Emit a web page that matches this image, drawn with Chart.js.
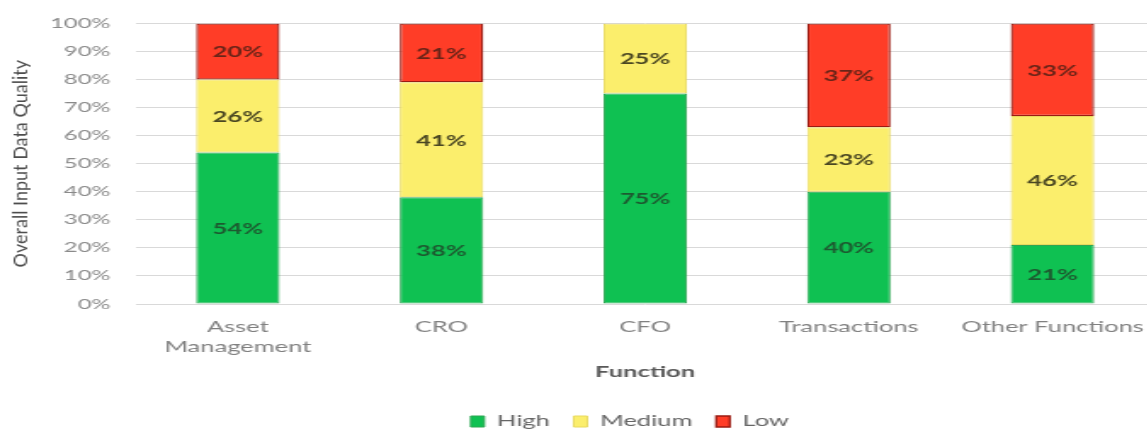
<!DOCTYPE html>
<html>
<head>
<meta charset="utf-8">
<script src="https://cdn.jsdelivr.net/npm/chart.js@4/dist/chart.umd.min.js"></script>
<style>
  html, body { margin: 0; padding: 0; background: #fff; overflow: hidden; }
  #wrap { width: 680px; height: 430px; transform-origin: 0 0; }
</style>
</head>
<body>
<div id="wrap"><canvas id="qualityChart" width="680" height="430"></canvas></div>
<script>
// data
const categories = [["Asset", "Management"], "CRO", "CFO", "Transactions", "Other Functions"];
const highValues = [54, 38, 75, 40, 21];
const mediumValues = [26, 41, 25, 23, 46];
const lowValues = [20, 21, 0, 37, 33];
const yTicks = [0, 10, 20, 30, 40, 50, 60, 70, 80, 90, 100];

// the source image is stretched sideways, so the canvas is too
const STRETCH = 1.7;
document.getElementById("wrap").style.transform = "scaleX(" + STRETCH + ")";

const FONT = "Lato, 'Open Sans', sans-serif";

// percentage labels in the middle of each segment
const segmentLabels = {
  id: "segmentLabels",
  afterDatasetsDraw(chart) {
    const ctx = chart.ctx;
    ctx.save();
    ctx.font = "bold 15px " + FONT;
    ctx.textAlign = "center";
    ctx.textBaseline = "middle";
    chart.data.datasets.forEach((ds, i) => {
      const meta = chart.getDatasetMeta(i);
      meta.data.forEach((bar, j) => {
        const v = ds.data[j];
        if (!v) return;
        ctx.fillStyle = ds.labelColor;
        ctx.fillText(v + "%", bar.x, (bar.y + bar.base) / 2 + 1);
      });
    });
    ctx.restore();
  }
};

// y title drawn un-stretched (it is narrow in the reference)
const yTitle = {
  id: "yTitle",
  afterLayout(chart) {
    // legend is centred under the plot, not under the whole canvas
    chart.legend.left += 62;
  },
  afterDraw(chart) {
    const ctx = chart.ctx;
    const area = chart.chartArea;
    ctx.save();
    ctx.translate(22 / STRETCH, (area.top + area.bottom) / 2);
    ctx.scale(1 / STRETCH, 1);
    ctx.rotate(-Math.PI / 2);
    ctx.font = "18px " + FONT;
    ctx.fillStyle = "#4d4d4d";
    ctx.textAlign = "center";
    ctx.textBaseline = "middle";
    ctx.fillText("Overall Input Data Quality", 0, 0);
    ctx.restore();
  }
};

new Chart(document.getElementById("qualityChart"), {
  type: "bar",
  data: {
    labels: categories,
    datasets: [
      {
        label: "High",
        data: highValues,
        backgroundColor: "#0fc152",
        borderColor: "#2ea653",
        borderWidth: 1,
        borderSkipped: false,
        labelColor: "#1d5a30"
      },
      {
        label: "Medium",
        data: mediumValues,
        backgroundColor: "#fbee6c",
        borderColor: "#e8d95e",
        borderWidth: 1,
        borderSkipped: false,
        labelColor: "#4a4722"
      },
      {
        label: "Low",
        data: lowValues,
        backgroundColor: "#ff3d27",
        borderColor: "#9a1b12",
        borderWidth: 1.3,
        borderSkipped: false,
        labelColor: "#6a2418"
      }
    ]
  },
  options: {
    responsive: false,
    animation: false,
    devicePixelRatio: 1,
    layout: {
      padding: { left: 0, right: 1, top: 7, bottom: -9 }
    },
    datasets: {
      bar: {
        barPercentage: 0.41,
        categoryPercentage: 1
      }
    },
    scales: {
      x: {
        stacked: true,
        grid: { display: false },
        border: { display: false },
        afterFit: scale => {
          scale.height = 96;
        },
        ticks: {
          color: "#808080",
          padding: 5,
          maxRotation: 0,
          autoSkip: false,
          font: { family: FONT, size: 15, lineHeight: 1.33 }
        },
        title: {
          display: true,
          text: "Function",
          color: "#595959",
          padding: { top: 0, bottom: 19 },
          font: { family: FONT, size: 15, weight: "bold" }
        }
      },
      y: {
        stacked: true,
        min: 0,
        max: 100,
        afterBuildTicks: scale => {
          scale.ticks = yTicks.map(v => ({ value: v }));
        },
        afterFit: scale => {
          scale.width = 80;
        },
        grid: { color: "#d9d9d9", lineWidth: 1, drawTicks: false },
        border: { display: false },
        ticks: {
          color: "#8a8a8a",
          padding: 15,
          font: { family: FONT, size: 14 },
          callback: v => v + "%"
        }
      }
    },
    plugins: {
      tooltip: { enabled: false },
      legend: {
        position: "bottom",
        labels: {
          color: "#666666",
          boxWidth: 8,
          boxHeight: 11,
          padding: 14,
          font: { family: FONT, size: 15 }
        }
      }
    }
  },
  plugins: [segmentLabels, yTitle]
});
</script>
</body>
</html>
